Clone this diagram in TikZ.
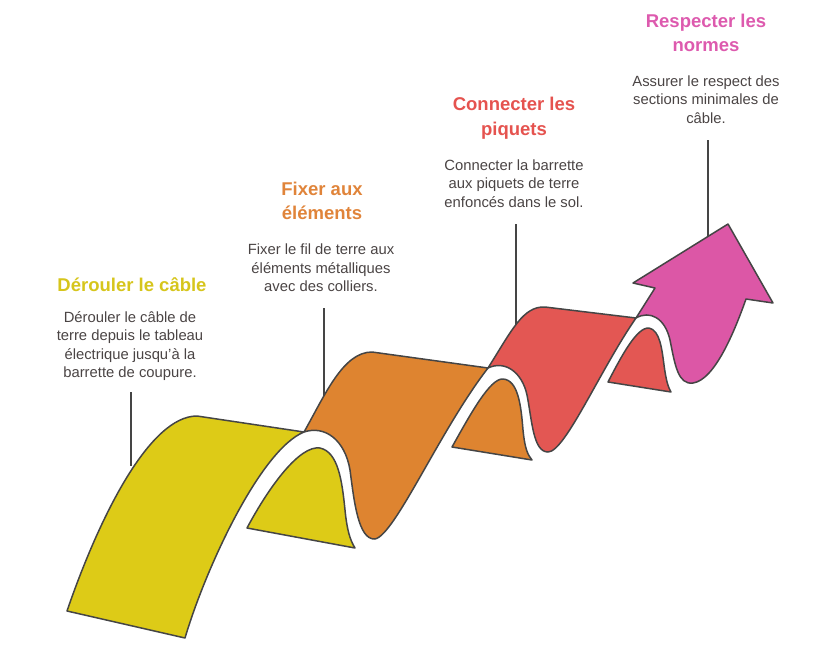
\documentclass[tikz,border=0pt]{standalone}
\usepackage{fontspec}
\setmainfont{Liberation Sans}
\definecolor{cy}{HTML}{DDCB17}
\definecolor{co}{HTML}{DE8430}
\definecolor{cr}{HTML}{E35753}
\definecolor{cp}{HTML}{DC57A6}
\definecolor{ty}{HTML}{D6C51C}
\definecolor{to}{HTML}{E0843A}
\definecolor{tr}{HTML}{E5534F}
\definecolor{tp}{HTML}{DD5AAE}
\definecolor{txt}{HTML}{4A4444}
\definecolor{ln}{HTML}{454545}
\begin{document}
\begin{tikzpicture}[x=1pt,y=-1pt,
  ttl/.style={font=\fontsize{18.5}{24.5}\selectfont\bfseries, align=center, inner sep=0pt},
  dsc/.style={font=\fontsize{14.8}{18.5}\selectfont, align=center, text=txt, inner sep=0pt},
  stem/.style={draw=ln, line width=1.5pt},
  rib/.style={draw=ln, line width=1.5pt, line join=round}]
\useasboundingbox (0,0) rectangle (840,659);

% texts
\node[ttl, text=ty] (t1) at (132,285) {Dérouler le câble};
\node[dsc] (d1) at (130,346) {Dérouler le câble de\\terre depuis le tableau\\électrique jusqu{\char"27}à la\\barrette de coupure.};
\node[ttl, text=to] (t2) at (322,201) {Fixer aux\\éléments};
\node[dsc] (d2) at (321,268) {Fixer le fil de terre aux\\éléments métalliques\\avec des colliers.};
\node[ttl, text=tr] (t3) at (514,118) {Connecter les\\piquets};
\node[dsc] (d3) at (514,183.5) {Connecter la barrette\\aux piquets de terre\\enfoncés dans le sol.};
\node[ttl, text=tp] (t4) at (706,33) {Respecter les\\normes};
\node[dsc] (d4) at (706,99.5) {Assurer le respect des\\sections minimales de\\câble.};

% stems
\coordinate (s1a) at (131,392); \coordinate (s1b) at (131,466);
\coordinate (s2a) at (324,308); \coordinate (s2b) at (324,398);
\coordinate (s3a) at (516,224); \coordinate (s3b) at (516,331);
\coordinate (s4a) at (708,140); \coordinate (s4b) at (708,240);
\draw[stem] (s1a) -- (s1b);
\draw[stem] (s2a) -- (s2b);
\draw[stem] (s3a) -- (s3b);
\draw[stem] (s4a) -- (s4b);

% back pieces
\filldraw[rib, fill=cy] (247,528) .. controls (270,485) and (300,445) .. (320,448)
  .. controls (338,452) and (342,480) .. (345,510)
  .. controls (347,530) and (350,540) .. (355,548) -- cycle;
\filldraw[rib, fill=co] (452,447) .. controls (470,415) and (490,378) .. (503,379)
  .. controls (518,380) and (521,405) .. (523,430)
  .. controls (525,450) and (528,455) .. (532,460) -- cycle;
\filldraw[rib, fill=cr] (608,382) .. controls (622,355) and (637,327) .. (649,328)
  .. controls (660,330) and (662,350) .. (664,365)
  .. controls (666,380) and (668,387) .. (671,392) -- cycle;

% front pieces
\filldraw[rib, fill=cy] (67,611) .. controls (100,515) and (150,416) .. (197,416)
  -- (304,432) .. controls (260,450) and (205,570) .. (185,638) -- cycle;
\filldraw[rib, fill=co] (304,432) .. controls (325,395) and (343,352) .. (372,352)
  -- (488,368) .. controls (440,430) and (395,535) .. (375,539)
  .. controls (358,540) and (354,500) .. (350,470)
  .. controls (345,440) and (325,425) .. (304,432) -- cycle;
\filldraw[rib, fill=cr] (488,368) .. controls (512,330) and (523,306) .. (545,307)
  -- (636,318) .. controls (600,370) and (565,452) .. (548,452)
  .. controls (533,452) and (532,420) .. (527,395)
  .. controls (522,372) and (505,360) .. (488,368) -- cycle;
\filldraw[rib, fill=cp] (636,318) -- (655,288) -- (633,283) -- (728,224) -- (773,303) -- (746,299)
  .. controls (735,330) and (715,380) .. (693,383)
  .. controls (678,385) and (675,365) .. (670,340)
  .. controls (665,318) and (650,310) .. (636,318) -- cycle;
\end{tikzpicture}
\end{document}
